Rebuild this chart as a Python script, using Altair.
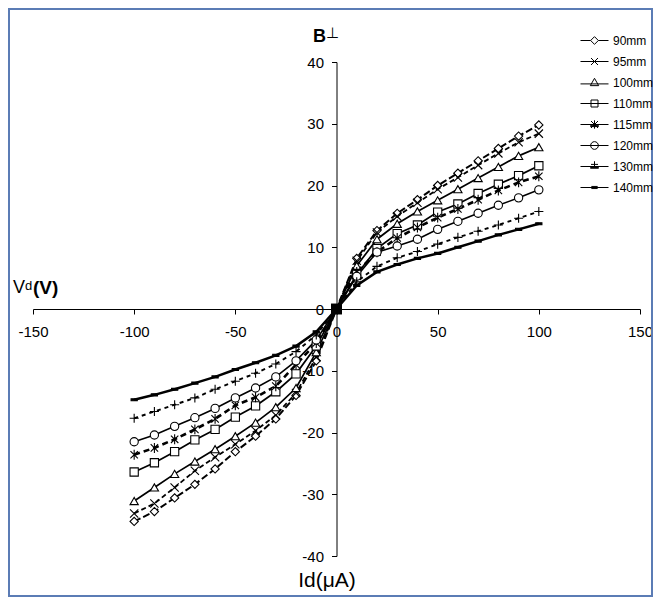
import altair as alt
import pandas as pd

FONT = "Liberation Sans"

# ---- data ----
id_neg = [-100, -90, -80, -70, -60, -50, -40, -30, -20, -10]
id_pos = [10, 20, 30, 40, 50, 60, 70, 80, 90, 100]

series_names = ["90mm", "95mm", "100mm", "110mm", "115mm", "120mm", "130mm", "140mm"]

v90_neg = [-34.4, -32.8, -30.6, -28.4, -25.9, -23.1, -20.6, -17.8, -14.0, -8.4]
v90_pos = [8.2, 12.7, 15.5, 17.7, 20.0, 22.0, 24.0, 26.0, 28.0, 29.8]
v95_neg = [-33.1, -31.5, -28.9, -26.2, -24.0, -21.9, -19.7, -17.2, -13.6, -7.8]
v95_pos = [7.8, 12.4, 15.0, 17.2, 19.4, 21.3, 23.3, 25.2, 27.0, 28.4]
v100_neg = [-31.1, -28.9, -26.7, -24.7, -22.7, -20.6, -18.4, -15.9, -12.8, -7.0]
v100_pos = [7.0, 11.3, 13.8, 15.8, 17.6, 19.4, 21.2, 23.0, 24.8, 26.2]
v110_neg = [-26.4, -24.9, -23.1, -21.2, -19.5, -17.5, -15.7, -13.4, -10.5, -6.0]
v110_pos = [5.6, 9.8, 12.2, 13.6, 15.7, 17.0, 18.7, 20.2, 21.6, 23.2]
v115_neg = [-23.6, -22.5, -21.1, -19.5, -17.8, -15.6, -14.3, -12.5, -9.0, -5.5]
v115_pos = [6.0, 9.2, 11.5, 13.2, 14.8, 16.2, 17.7, 19.2, 20.5, 21.5]
v120_neg = [-21.5, -20.4, -19.0, -17.6, -16.1, -14.4, -12.8, -11.0, -8.4, -5.0]
v120_pos = [5.3, 9.2, 10.2, 11.3, 12.9, 14.2, 15.5, 16.8, 18.0, 19.3]
v130_neg = [-17.7, -16.6, -15.5, -14.4, -13.0, -11.7, -10.4, -8.9, -6.9, -4.2]
v130_pos = [4.4, 6.9, 8.3, 9.3, 10.5, 11.6, 12.6, 13.6, 14.7, 15.8]
v140_neg = [-14.7, -13.9, -13.0, -12.0, -11.0, -9.8, -8.7, -7.5, -6.0, -3.7]
v140_pos = [3.8, 6.0, 7.2, 8.2, 9.0, 10.0, 11.0, 12.0, 12.9, 13.8]

neg_values = [v90_neg, v95_neg, v100_neg, v110_neg, v115_neg, v120_neg, v130_neg, v140_neg]
pos_values = [v90_pos, v95_pos, v100_pos, v110_pos, v115_pos, v120_pos, v130_pos, v140_pos]

rows = []
for name, vn, vp in zip(series_names, neg_values, pos_values):
    xs = id_neg + [0] + id_pos
    ys = vn + [0.0] + vp
    for xv, yv in zip(xs, ys):
        rows.append({"series": name, "Id": xv, "Vd": yv})
df = pd.DataFrame(rows)

# ---- styles ----
line_styles = {
    "90mm": (2.0, [7, 3]),
    "95mm": (1.8, [5, 3]),
    "100mm": (1.7, None),
    "110mm": (1.7, None),
    "115mm": (2.6, [6, 4]),
    "120mm": (1.6, None),
    "130mm": (1.9, [4, 4]),
    "140mm": (2.5, None),
}

point_shapes = [
    "diamond",
    "M-1,-1L1,1M-1,1L1,-1",
    "triangle-up",
    "square",
    "M-0.9,-0.9L0.9,0.9M-0.9,0.9L0.9,-0.9M0,-1.2V1.2",
    "circle",
    "M-1.1,0H1.1M0,-1.1V1.1",
    "M-0.75,-0.25H0.75V0.25H-0.75Z",
]
point_fills = ["white", "white", "white", "white", "white", "white", "white", "black"]

legend_shapes = [
    "M-2,0H-0.55M0.55,0H2M0,-0.55L0.55,0L0,0.55L-0.55,0Z",
    "M-2,0H2M-0.5,-0.5L0.5,0.5M-0.5,0.5L0.5,-0.5",
    "M-2,0.2H2M0,-0.6L0.6,0.45L-0.6,0.45Z",
    "M-2,0H2M-0.5,-0.5H0.5V0.5H-0.5Z",
    "M-2,0H2M-0.5,-0.5L0.5,0.5M-0.5,0.5L0.5,-0.5M0,-0.6V0.6M-0.6,0.1H0.6M-0.6,0.2H0.6M-0.6,0.3H0.6",
    "M-2,0H2M0.55,0A0.55,0.55,0,1,1,-0.55,0A0.55,0.55,0,1,1,0.55,0Z",
    "M-2,0H2M-0.5,-0.3H0.5M0,-0.75V0M-0.6,0.05H0.6M-0.6,0.15H0.6M-0.6,0.25H0.6",
    "M-2,0H2M-0.45,-0.15H0.45M-0.45,0.15H0.45M-0.45,0H0.45",
]

W, H = 607, 494

x_enc = alt.X(
    "Id:Q",
    scale=alt.Scale(domain=[-150, 150], nice=False, zero=False),
    axis=alt.Axis(
        values=[-150, -100, -50, 0, 50, 100, 150], offset=-H / 2, title=None, grid=False,
        domainColor="black", tickColor="black", labelColor="black", labelFont=FONT,
        labelFontSize=15, tickSize=5, labelPadding=10, labelFlush=False, labelOverlap=False,
        labelExpr="toString(datum.value)",
    ),
)
y_enc = alt.Y(
    "Vd:Q",
    scale=alt.Scale(domain=[-40, 40], nice=False, zero=False),
    axis=alt.Axis(
        values=[-40, -30, -20, -10, 0, 10, 20, 30, 40], offset=-W / 2, title=None,
        grid=False, domainColor="black", tickColor="black", labelColor="black", labelFont=FONT,
        labelFontSize=15, tickSize=5, labelPadding=8, labelFlush=False, labelOverlap=False,
        labelExpr="toString(datum.value)",
    ),
)

layers = []

border = alt.Chart(pd.DataFrame({"k": [0]})).mark_rect(
    fillOpacity=0, stroke="#5b7cb5", strokeWidth=2
).encode(x=alt.value(-24), x2=alt.value(619), y=alt.value(-53), y2=alt.value(534))
layers.append(border)

for name in series_names:
    w, dash = line_styles[name]
    kw = dict(color="black", strokeWidth=w)
    if dash:
        kw["strokeDash"] = dash
    layers.append(
        alt.Chart(df).transform_filter(alt.datum.series == name).mark_line(**kw).encode(
            x=x_enc, y=y_enc, order="Id:Q"
        )
    )

points = alt.Chart(df).mark_point(filled=True, size=68, stroke="black", strokeWidth=1.1, opacity=1).encode(
    x=x_enc,
    y=y_enc,
    shape=alt.Shape("series:N", scale=alt.Scale(domain=series_names, range=point_shapes), legend=None),
    fill=alt.Fill("series:N", scale=alt.Scale(domain=series_names, range=point_fills), legend=None),
)
layers.append(points)

# the shared origin point, where all markers pile up into a black block
origin = alt.Chart(df).transform_filter(
    (alt.datum.Id == 0) & (alt.datum.series == "110mm")
).mark_point(shape="square", filled=True, color="black", size=120, opacity=1).encode(x=x_enc, y=y_enc)
layers.append(origin)

legend_layer = alt.Chart(pd.DataFrame({"label": series_names})).mark_point(opacity=0, size=196).encode(
    x=alt.value(0),
    y=alt.value(0),
    shape=alt.Shape(
        "label:N",
        scale=alt.Scale(domain=series_names, range=legend_shapes),
        legend=alt.Legend(
            orient="none", legendX=554, legendY=-29, title=None, padding=0,
            labelFont=FONT, labelFontSize=12, labelColor="black", labelOffset=11,
            rowPadding=7, symbolSize=196, symbolStrokeColor="black", symbolFillColor="white",
            symbolOpacity=1, symbolStrokeWidth=1, labelLimit=0,
        ),
    ),
)
layers.append(legend_layer)

def txt(t, x, y, size, weight="normal", align="left"):
    return alt.Chart(pd.DataFrame({"k": [0]})).mark_text(
        text=t, font=FONT, fontSize=size, fontWeight=weight, align=align,
        baseline="alphabetic", color="black"
    ).encode(x=alt.value(x), y=alt.value(y))

layers.append(txt("B", 280, -20, 18, "bold"))
layers.append(txt("⊥", 293, -24, 15))
layers.append(txt("V", -20, 231, 18))
layers.append(txt("d", -8, 228, 13))
layers.append(txt("(V)", 0, 232, 19, "bold"))
layers.append(txt("Id(μA)", 294, 525, 21, align="center"))

chart = alt.layer(*layers).resolve_scale(shape="independent").properties(
    width=W, height=H,
    autosize=alt.AutoSizeParams(type="none"),
    padding={"left": 25, "top": 54, "right": 13, "bottom": 41},
).configure_view(strokeWidth=0)

chart.save("out.html", embed_options={"renderer": "svg", "actions": False})
